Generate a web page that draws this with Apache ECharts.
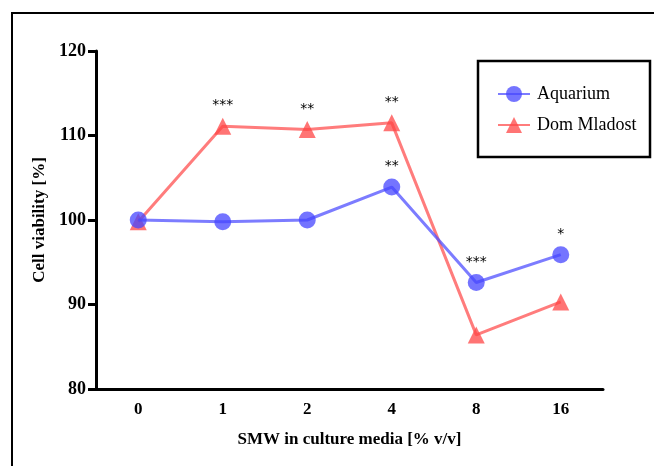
<!DOCTYPE html>
<html>
<head>
<meta charset="utf-8">
<script src="https://cdn.jsdelivr.net/npm/echarts@6/dist/echarts.min.js"></script>
<style>
html,body{margin:0;padding:0;background:#fff;}
#chart{width:654px;height:466px;}
</style>
</head>
<body>
<div id="chart"></div>
<script>
const categories = ['0', '1', '2', '4', '8', '16'];
const aquarium = [100.0, 99.8, 100.0, 103.9, 92.6, 95.9];
const domMladost = [99.8, 111.1, 110.7, 111.5, 86.4, 90.3];
const aquariumSig = ['', '', '', '**', '***', '*'];
const domSig = ['', '***', '**', '**', '', ''];
const yTicks = [80, 90, 100, 110, 120];

const FONT = '"Liberation Serif", "Times New Roman", serif';
const chart = echarts.init(document.getElementById('chart'));

function sigLabel(arr) {
  return {
    show: true,
    position: 'top',
    distance: 5,
    color: '#000',
    fontFamily: 'DejaVu Sans',
    fontSize: 14,
    formatter: p => arr[p.dataIndex]
  };
}

chart.setOption({
  animation: false,
  backgroundColor: '#fff',
  graphic: [
    { type: 'rect', shape: { x: 12, y: 13, width: 700, height: 500 }, style: { fill: 'none', stroke: '#000', lineWidth: 2 }, z: -1 },
    { type: 'rect', shape: { x: 478, y: 61, width: 172, height: 96 }, style: { fill: '#fff', stroke: '#000', lineWidth: 2.5 }, z: 5 }
  ],
  legend: {
    orient: 'vertical',
    left: 492,
    top: 80,
    itemWidth: 32,
    itemHeight: 20,
    itemGap: 13,
    itemStyle: { opacity: 1 },
    textStyle: { fontFamily: FONT, fontSize: 18, color: '#000', padding: [0, 0, 0, 2] },
    data: ['Aquarium', 'Dom Mladost'],
    z: 10
  },
  grid: { left: 96, right: 51, top: 51, bottom: 77, containLabel: false },
  xAxis: {
    type: 'category',
    data: categories,
    boundaryGap: true,
    name: 'SMW in culture media [% v/v]',
    nameLocation: 'middle',
    nameGap: 42,
    nameTextStyle: { fontFamily: FONT, fontSize: 17, fontWeight: 'bold', color: '#000' },
    axisLine: { lineStyle: { color: '#000', width: 3 } },
    axisTick: { alignWithLabel: true, length: 6, lineStyle: { width: 3, color: '#000' } },
    axisLabel: { fontFamily: FONT, fontSize: 17, fontWeight: 'bold', color: '#000', margin: 12 }
  },
  yAxis: {
    type: 'value',
    min: yTicks[0],
    max: yTicks[yTicks.length - 1],
    interval: 10,
    name: 'Cell viability [%]',
    nameLocation: 'middle',
    nameGap: 40,
    nameTextStyle: { fontFamily: FONT, fontSize: 17, fontWeight: 'bold', color: '#000' },
    axisLine: { show: true, lineStyle: { color: '#000', width: 3 } },
    axisTick: { show: true, length: 8, lineStyle: { width: 3, color: '#000' } },
    splitLine: { show: false },
    axisLabel: { fontFamily: FONT, fontSize: 18, fontWeight: 'bold', color: '#000', margin: 10 }
  },
  series: [
    {
      name: 'Dom Mladost',
      type: 'line',
      data: domMladost,
      symbol: 'triangle',
      symbolSize: 17,
      color: 'rgba(255,70,70,0.75)',
      lineStyle: { width: 3, color: 'rgba(255,80,80,0.75)' },
      itemStyle: { color: 'rgba(255,70,70,0.75)' },
      label: sigLabel(domSig),
      z: 2
    },
    {
      name: 'Aquarium',
      type: 'line',
      data: aquarium,
      symbol: 'circle',
      symbolSize: 17,
      color: 'rgba(70,70,255,0.75)',
      lineStyle: { width: 3, color: 'rgba(80,80,255,0.75)' },
      itemStyle: { color: 'rgba(70,70,255,0.75)' },
      label: sigLabel(aquariumSig),
      z: 3
    }
  ]
});
</script>
</body>
</html>
